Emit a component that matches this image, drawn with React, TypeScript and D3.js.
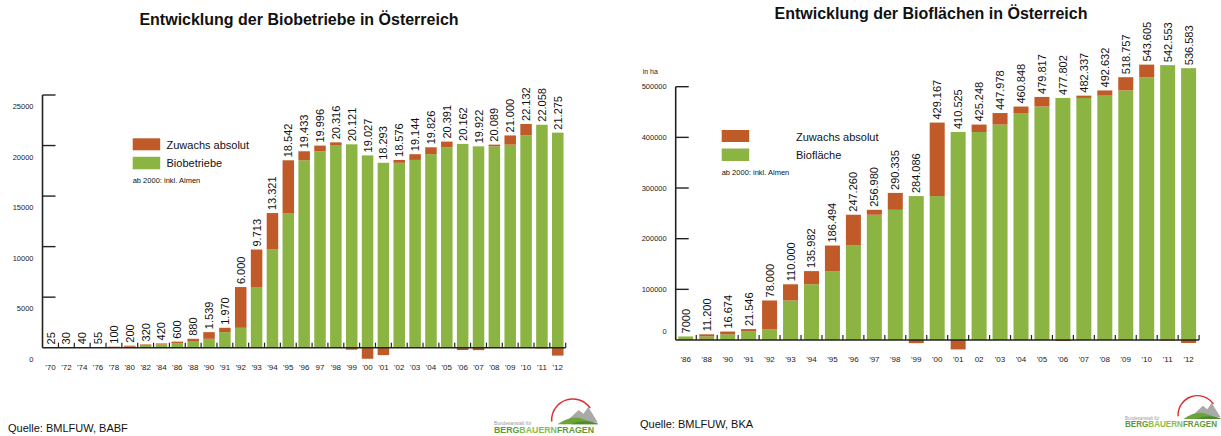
import React from "react";
import * as d3 from "d3";

// Organic farms (Biobetriebe) per year
const farmYears = ["'70", "'72", "'74", "'76", "'78", "'80", "'82", "'84", "'86", "'88", "'90", "'91", "'92", "'93", "'94", "'95", "'96", "97", "'98", "'99", "'00", "'01", "'02", "'03", "'04", "'05", "'06", "'07", "'08", "'09", "'10", "'11", "'12"];
const farmCounts = [25, 30, 40, 55, 100, 200, 320, 420, 600, 880, 1539, 1970, 6000, 9713, 13321, 18542, 19433, 19996, 20316, 20121, 19027, 18293, 18576, 19144, 19826, 20391, 20162, 19922, 20089, 21000, 22132, 22058, 21275];
const farmTicks = [0, 5000, 10000, 15000, 20000, 25000];

// Organic area (Biofläche) in hectares per year
const areaYears = ["'86", "'88", "'90", "'91", "'92", "'93", "'94", "'95", "'96", "'97", "'98", "'99", "'00", "'01", "02", "'03", "'04", "'05", "'06", "'07", "'08", "'09", "'10", "'11", "'12"];
const areaHa = [7000, 11200, 16674, 21546, 78000, 110000, 135982, 186494, 247260, 256980, 290335, 284086, 429167, 410525, 425248, 447978, 460848, 479817, 477802, 482337, 492632, 518757, 543605, 542553, 536583];
const areaTicks = [0, 100000, 200000, 300000, 400000, 500000];

const ORANGE = "#C05A28";
const GREEN = "#8BB443";
const AXIS = "#222";
const FONT = "'Liberation Sans', Arial, sans-serif";

const groupDots = d3.formatLocale({ decimal: ",", thousands: ".", grouping: [3], currency: ["", "€"] }).format(",d");

type ChartProps = {
  title: string;
  titleX: number;
  titleY: number;
  cats: string[];
  vals: number[];
  ticks: number[];
  xRange: [number, number];
  yRange: [number, number];
  pad: number;
  axisX: number;
  tickLabelX: number;
  tickLabelDy: (v: number) => number;
  catLabelY: number;
  legend: { x: number; y: number; textX: number; label: string };
  unit?: { x: number; y: number; text: string };
  fmt: (v: number) => string;
};

function GrowthChart(p: ChartProps) {
  const x = d3.scaleBand<string>().domain(p.cats).range(p.xRange).paddingInner(p.pad).paddingOuter(p.pad / 2);
  const max = p.ticks[p.ticks.length - 1];
  const y = d3.scaleLinear().domain([0, max]).range(p.yRange);
  const y0 = y(0);
  const bw = x.bandwidth();
  const step = x.step();
  const [yb, yt] = p.yRange;

  return (
    <g fontFamily={FONT}>
      <text x={p.titleX} y={p.titleY} textAnchor="middle" fontWeight="bold" fontSize={16} fill="#111">{p.title}</text>
      {p.unit && <text x={p.unit.x} y={p.unit.y} fontSize={7} fill="#222">{p.unit.text}</text>}

      {/* y axis */}
      <line x1={p.axisX} x2={p.axisX} y1={yt} y2={yb} stroke={AXIS} strokeWidth={1.6} />
      {p.ticks.map((t) => (
        <g key={t}>
          {t > 0 && <line x1={p.axisX} x2={p.axisX + 13} y1={y(t)} y2={y(t)} stroke={AXIS} strokeWidth={1.4} />}
          <text x={p.tickLabelX} y={y(t) + p.tickLabelDy(t)} textAnchor="end" dominantBaseline="central" fontSize={7.5} fill="#222">{t}</text>
        </g>
      ))}

      {/* bars: green = the lower of this and last year, orange = change */}
      {p.vals.map((v, i) => {
        const prev = i > 0 ? p.vals[i - 1] : v;
        const base = Math.min(v, prev);
        const bx = x(p.cats[i])!;
        const diff = v - prev;
        return (
          <g key={p.cats[i]}>
            <rect x={bx} y={y(base)} width={bw} height={y0 - y(base)} fill={GREEN} />
            {diff > 0 && <rect x={bx} y={y(v)} width={bw} height={y(prev) - y(v)} fill={ORANGE} />}
            {diff < 0 && <rect x={bx} y={y0} width={bw} height={y0 - y(-diff)} fill={ORANGE} />}
            <text
              transform={`translate(${bx + bw / 2},${y(v) - 3}) rotate(-90)`}
              dominantBaseline="central"
              fontSize={11}
              fill="#111"
            >
              {p.fmt(v)}
            </text>
            <text x={bx + bw / 2} y={p.catLabelY} textAnchor="middle" dominantBaseline="central" fontSize={8} fill="#222">{p.cats[i]}</text>
          </g>
        );
      })}

      {/* baseline with separators between bars */}
      <line x1={p.axisX} x2={p.xRange[1]} y1={y0} y2={y0} stroke={AXIS} strokeWidth={1.4} />
      {p.cats.map((c) => (
        <line key={c} x1={x(c)! - (step - bw) / 2 + step} x2={x(c)! - (step - bw) / 2 + step} y1={y0 - 5} y2={y0} stroke={AXIS} strokeWidth={1.2} />
      ))}

      {/* legend */}
      <rect x={p.legend.x} y={p.legend.y} width={27.5} height={12} fill={ORANGE} />
      <rect x={p.legend.x} y={p.legend.y + 18.5} width={27.5} height={12.5} fill={GREEN} />
      <text x={p.legend.textX} y={p.legend.y + 6.5} dominantBaseline="central" fontSize={11} fill="#111">Zuwachs absolut</text>
      <text x={p.legend.textX} y={p.legend.y + 25} dominantBaseline="central" fontSize={11} fill="#111">{p.legend.label}</text>
      <text x={p.legend.x} y={p.legend.y + 42.5} dominantBaseline="central" fontSize={7.5} fill="#111">ab 2000: inkl. Almen</text>
    </g>
  );
}

function Logo({ x, y, w }: { x: number; y: number; w: number }) {
  const k = w / 104;
  return (
    <g fontFamily={FONT} transform={`translate(${x},${y}) scale(${k})`}>
      {/* mountain */}
      <path d="M72,-9 L88,-24 L93,-20 L98,-27 L108,-11 Z" fill="#a9aaa8" />
      <path d="M66,-9 Q82,-20 94,-14 Q102,-11 108,-9 Z" fill="#6aa53a" />
      <path d="M80,-9 Q92,-15 108,-10 L108,-9 Z" fill="#4d8a2d" />
      {/* arc */}
      <path d="M60,-12 A22 22 0 0 1 100,-26" fill="none" stroke="#d8322e" strokeWidth={1.6} />
      <text x={0} y={-8} fontSize={5} fill="#9a9a9a">Bundesanstalt für</text>
      <text x={0} y={0} fontSize={10} fontWeight="bold" textLength={104} lengthAdjust="spacingAndGlyphs">
        <tspan fill="#5c9a36">BERG</tspan>
        <tspan fill="#8bbb46">BAUERN</tspan>
        <tspan fill="#5c9a36">FRAGEN</tspan>
      </text>
    </g>
  );
}

export default function App() {
  return (
    <svg width={1221} height={436} style={{ position: "absolute", left: 0, top: 0, background: "#fff" }}>
      <rect width={1221} height={436} fill="#fff" />
      <GrowthChart
        title="Entwicklung der Biobetriebe in Österreich"
        titleX={299}
        titleY={25}
        cats={farmYears}
        vals={farmCounts}
        ticks={farmTicks}
        xRange={[42.6, 565.7]}
        yRange={[347.7, 95]}
        pad={0.274}
        axisX={42.5}
        tickLabelX={33.5}
        tickLabelDy={() => 11.5}
        catLabelY={367}
        legend={{ x: 132.7, y: 138.3, textX: 166.5, label: "Biobetriebe" }}
        fmt={(v) => groupDots(v)}
      />
      <GrowthChart
        title="Entwicklung der Bioflächen in Österreich"
        titleX={931}
        titleY={19}
        cats={areaYears}
        vals={areaHa}
        ticks={areaTicks}
        xRange={[675.3, 1199.1]}
        yRange={[340, 86.7]}
        pad={0.284}
        axisX={675.7}
        tickLabelX={666.7}
        tickLabelDy={(v) => (v === 0 ? -9 : 0)}
        catLabelY={359.3}
        legend={{ x: 721.7, y: 130, textX: 796, label: "Biofläche" }}
        unit={{ x: 642.7, y: 74, text: "in ha" }}
        fmt={(v) => (v < 10000 ? String(v) : groupDots(v))}
      />
      <text x={8} y={432} fontFamily={FONT} fontSize={11} fill="#111">Quelle: BMLFUW, BABF</text>
      <text x={640} y={428} fontFamily={FONT} fontSize={11} fill="#111">Quelle: BMLFUW, BKA</text>
      <Logo x={494} y={433} w={100} />
      <Logo x={1125} y={427} w={92} />
    </svg>
  );
}
